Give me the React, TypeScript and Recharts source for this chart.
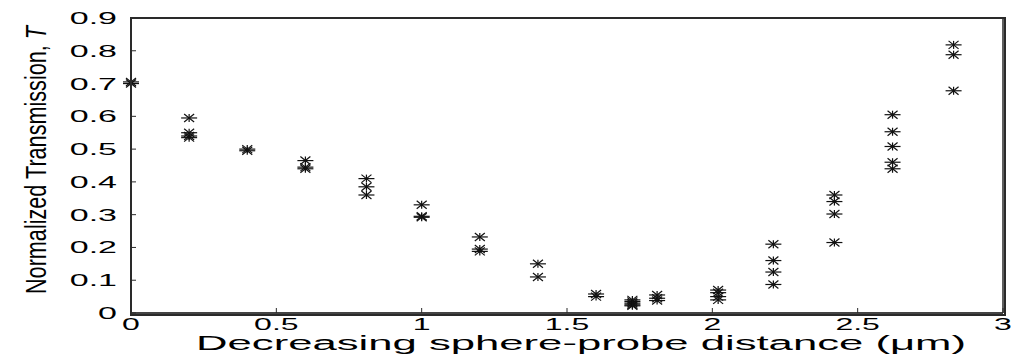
import React from "react"
import { ScatterChart, Scatter, XAxis, YAxis, Label, CartesianGrid } from "recharts"

// sphere-probe distance (um) and normalized transmission, one entry per point
const distance = [
  0, 0,
  0.2, 0.2, 0.2, 0.2,
  0.4, 0.4,
  0.6, 0.6, 0.6,
  0.81, 0.81, 0.81,
  1.0, 1.0, 1.0,
  1.2, 1.2, 1.2,
  1.4, 1.4,
  1.6, 1.6,
  1.725, 1.725, 1.725, 1.725, 1.725,
  1.81, 1.81, 1.81,
  2.02, 2.02, 2.02, 2.02,
  2.21, 2.21, 2.21, 2.21,
  2.42, 2.42, 2.42, 2.42,
  2.62, 2.62, 2.62, 2.62, 2.62,
  2.83, 2.83, 2.83,
]
const transmission = [
  0.7, 0.705,
  0.595, 0.55, 0.54, 0.535,
  0.5, 0.495,
  0.465, 0.445, 0.44,
  0.41, 0.385, 0.36,
  0.33, 0.295, 0.292,
  0.232, 0.195, 0.188,
  0.15, 0.11,
  0.058, 0.05,
  0.04, 0.035, 0.03, 0.025, 0.022,
  0.055, 0.045, 0.038,
  0.07, 0.062, 0.05, 0.04,
  0.21, 0.16, 0.125, 0.087,
  0.36, 0.34, 0.302, 0.215,
  0.605, 0.553, 0.508, 0.46, 0.44,
  0.818, 0.788, 0.678,
]
const xTicks = [0, 0.5, 1, 1.5, 2, 2.5, 3]
const yTicks = [0, 0.1, 0.2, 0.3, 0.4, 0.5, 0.6, 0.7, 0.8, 0.9]
// box edges of the plot
const xEdges = [0, 3]
const yEdges = [0, 0.9]

const points = distance.map((d, i) => ({ d, t: transmission[i] }))

const font = "'Liberation Sans', Arial, sans-serif"
const axisColor = "#2a2a2a"

// matlab style "*" marker, a bit flattened like the scanned figure
const Asterisk = (props: any) => {
  const { cx, cy } = props
  if (cx == null || cy == null) return <g />
  return (
    <g stroke="#111" strokeWidth={1.2}>
      <line x1={cx - 8} y1={cy} x2={cx + 8} y2={cy} />
      <line x1={cx - 5} y1={cy - 4} x2={cx + 5} y2={cy + 4} />
      <line x1={cx - 5} y1={cy + 4} x2={cx + 5} y2={cy - 4} />
      <line x1={cx} y1={cy - 4} x2={cx} y2={cy + 4} />
    </g>
  )
}

const XTick = (props: any) => {
  const { x, y, payload } = props
  return (
    <g transform={`translate(${x},${y}) scale(2,1)`}>
      <text x={0} y={17} textAnchor="middle" fontFamily={font} fontSize={16} fill="#000">
        {String(payload.value)}
      </text>
    </g>
  )
}

const YTick = (props: any) => {
  const { x, y, payload } = props
  return (
    <g transform={`translate(${x},${y}) scale(2,1)`}>
      <text x={0} y={6} textAnchor="end" fontFamily={font} fontSize={17} fill="#000">
        {String(payload.value)}
      </text>
    </g>
  )
}

const NoTick = () => <g />

const XTitle = () => (
  <text
    x={196}
    y={350}
    textLength={770}
    lengthAdjust="spacingAndGlyphs"
    fontFamily={font}
    fontSize={20}
    fill="#000"
  >
    Decreasing sphere-probe distance (μm)
  </text>
)

const YTitle = () => (
  <text
    transform="translate(46,160) rotate(-90)"
    textAnchor="middle"
    textLength={268}
    lengthAdjust="spacingAndGlyphs"
    fontFamily="'Liberation Sans Narrow', 'Arial Narrow', 'Liberation Sans', sans-serif"
    fontSize={29}
    fill="#000"
  >
    Normalized Transmission, <tspan fontStyle="italic">T</tspan>
  </text>
)

export default function App() {
  return (
    <div style={{ position: "absolute", left: 0, top: 0, width: 1012, height: 358, background: "#fff" }}>
      <ScatterChart width={1012} height={358} margin={{ top: 18, right: 9, bottom: 0, left: 0 }}>
        <CartesianGrid
          xAxisId="b"
          yAxisId="l"
          verticalValues={xEdges}
          horizontalValues={yEdges}
          stroke={axisColor}
          strokeWidth={1.5}
          strokeDasharray="0"
        />
        <XAxis
          xAxisId="b"
          dataKey="d"
          type="number"
          domain={[0, 3]}
          ticks={xTicks}
          height={45}
          tickSize={-5}
          tickMargin={5}
          stroke={axisColor}
          tick={<XTick />}
        >
          <Label content={<XTitle />} />
        </XAxis>
        <XAxis
          xAxisId="t"
          orientation="top"
          type="number"
          domain={[0, 3]}
          ticks={xTicks}
          height={0}
          tickSize={-5}
          stroke={axisColor}
          tick={<NoTick />}
        />
        <YAxis
          yAxisId="l"
          dataKey="t"
          type="number"
          domain={[0, 0.9]}
          ticks={yTicks}
          width={131}
          tickSize={-5}
          tickMargin={19}
          stroke={axisColor}
          tick={<YTick />}
        >
          <Label content={<YTitle />} />
        </YAxis>
        <YAxis
          yAxisId="r"
          orientation="right"
          type="number"
          domain={[0, 0.9]}
          ticks={yTicks}
          width={0}
          tickSize={-5}
          stroke={axisColor}
          tick={<NoTick />}
        />
        <Scatter
          data={points}
          xAxisId="b"
          yAxisId="l"
          shape={<Asterisk />}
          isAnimationActive={false}
        />
      </ScatterChart>
      {/* plain box over the plot area, in case the svg frame does not show */}
      <div
        style={{
          position: "absolute",
          left: 130,
          top: 17,
          width: 872,
          height: 295,
          border: `2px solid ${axisColor}`,
          pointerEvents: "none",
        }}
      />
    </div>
  )
}
